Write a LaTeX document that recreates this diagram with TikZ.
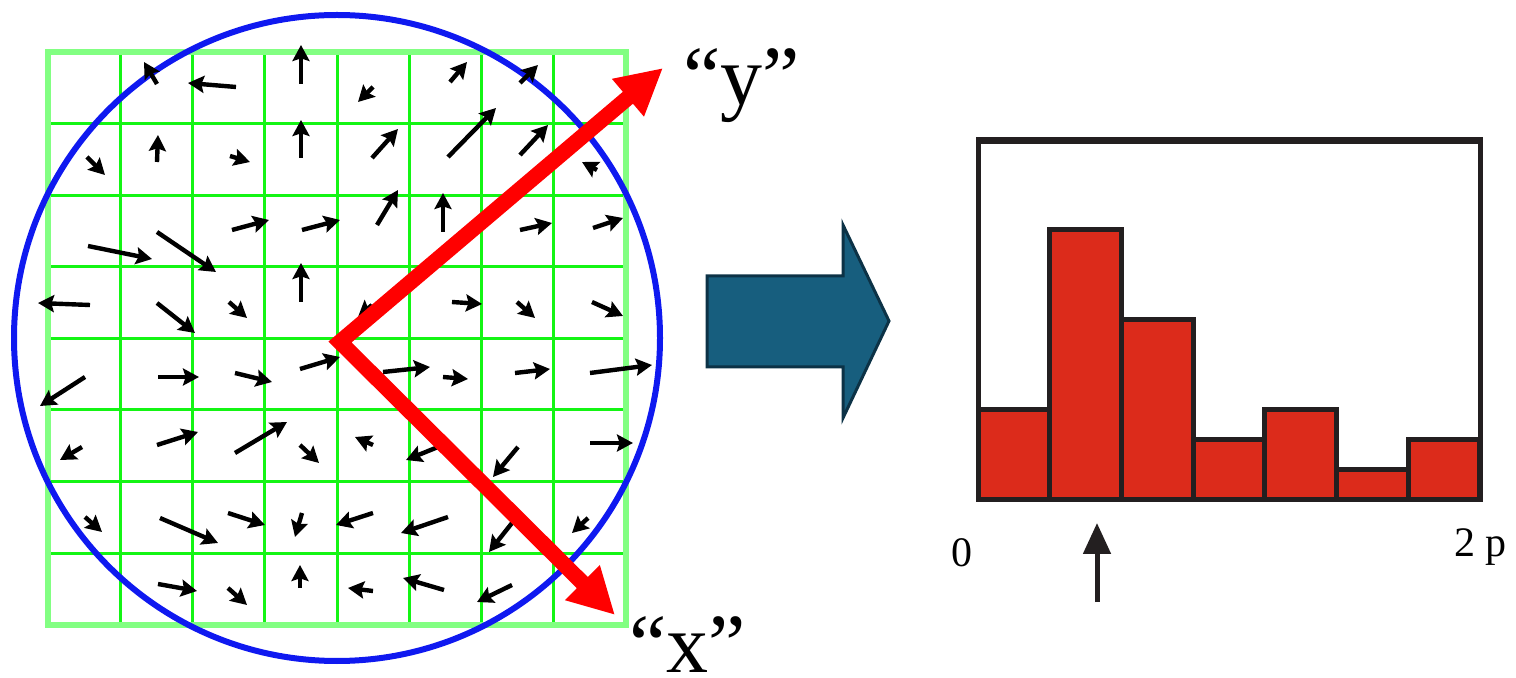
\documentclass[tikz,border=0pt]{standalone}
\usepackage{fontspec}
\setmainfont{Liberation Serif}
\usetikzlibrary{arrows.meta}
\definecolor{gridgreen}{RGB}{20,245,20}
\definecolor{gridlight}{RGB}{130,255,130}
\definecolor{circblue}{RGB}{15,25,240}
\definecolor{axred}{RGB}{255,0,0}
\definecolor{barred}{RGB}{220,43,27}
\definecolor{histblack}{RGB}{35,31,32}
\definecolor{arrowteal}{RGB}{23,94,126}
\definecolor{arrowdark}{RGB}{12,50,70}
\begin{document}
\begin{tikzpicture}[x=0.5pt,y=-0.5pt,
  vec/.style={draw=black, line width=2.2pt, -{Stealth[length=8pt,width=8.5pt,inset=1.3pt]}},
  gridline/.style={gridgreen, line width=1.5pt},
  gridborder/.style={gridlight, line width=2.8pt},
  axis/.style={axred, line width=7.8pt, line join=miter, {Triangle[length=23pt,width=23pt]}-{Triangle[length=23pt,width=23pt]}},
  bar/.style={fill=barred, draw=histblack, line width=2.5pt},
  bigarrow/.style={fill=arrowteal, draw=arrowdark, line width=1.5pt, line join=miter},
  pointer/.style={histblack, line width=2.5pt, -{Triangle[length=15.5pt,width=13.5pt]}},
  biglabel/.style={inner sep=0pt, anchor=base west, font=\fontsize{42}{48}\selectfont},
  ticklabel/.style={inner sep=0pt, anchor=base west, font=\fontsize{21}{24}\selectfont},
]
\useasboundingbox (0,0) rectangle (1516,678);
% grid
\foreach \i in {1,...,7} {
  \draw[gridline] ({48+72.25*\i},52) -- ({48+72.25*\i},625);
  \draw[gridline] (48,{52+71.6*\i}) -- (626,{52+71.6*\i});
}
\draw[gridborder] (48,52) rectangle (626,625);
% circle
\draw[circblue, line width=3pt] (337,338) circle[radius=161.5pt];
% gradient vectors
\foreach \a/\b/\c/\d in {
 157/84/144/62, 236/87/188/83, 301/84/301/45, 373/87/358/102, 450/82/467/62, 520/83/538/65,
 87/157/105/175, 157/162/158/135, 230/156/250/162, 301/158/301/120, 372/158/398/129, 448/157/496/108, 520/155/548/125, 597/170/582/162,
 88/246/152/259, 157/232/216/272, 232/230/269/220, 302/230/340/220, 377/225/398/190, 443/232/443/193, 520/230/552/223, 593/228/623/218,
 90/305/38/303, 157/303/195/333, 229/302/247/318, 301/302/301/263, 372/305/358/317, 452/302/482/304, 517/302/535/318, 592/302/623/316,
 85/377/40/406, 158/377/199/377, 235/373/272/382, 300/369/340/357, 383/372/430/367, 443/377/468/379, 515/373/550/369, 590/373/652/365,
 82/447/60/460, 157/445/198/432, 235/453/287/422, 300/445/319/463, 373/445/355/437, 438/447/406/460, 518/447/493/477, 590/443/633/443,
 85/517/102/532, 160/518/218/543, 228/513/265/525, 302/513/295/537, 373/513/336/525, 448/517/401/533, 512/523/489/552, 588/518/572/533,
 158/584/197/591, 228/588/247/605, 300/588/300/565, 373/591/348/588, 444/590/403/578, 512/585/477/602}
  \draw[vec] (\a,\b) -- (\c,\d);
% red axes
\coordinate (ytip) at (663,68);
\coordinate (origin) at (340,342);
\coordinate (xtip) at (615,615);
\draw[axis] (ytip) -- (origin) -- (xtip);
\node[biglabel] (ylab) at (683,105) {“y”};
\node[biglabel] (xlab) at (629,672) {“x”};
% big blue arrow
\draw[bigarrow] (707,276) -- (843,276) -- (843,225) -- (889,321) -- (843,418) -- (843,367) -- (707,367) -- cycle;
% histogram
\foreach \i/\h in {0/410,1/230,2/320,3/440,4/410,5/470,6/440}
  \draw[bar] ({978+71.7*\i},500) rectangle ({978+71.7*(\i+1)},\h);
\draw[histblack, line width=2.5pt] (978,140) rectangle (1480,500);
\draw[histblack, line width=3.5pt] (976,141) -- (1482,141);
\node[ticklabel] (zero) at (951,567) {0};
\node[ticklabel] (twop) at (1454,557) {2 p};
\coordinate (pbase) at (1097,602);
\coordinate (ptip) at (1097,523);
\draw[pointer] (pbase) -- (ptip);
\end{tikzpicture}
\end{document}
